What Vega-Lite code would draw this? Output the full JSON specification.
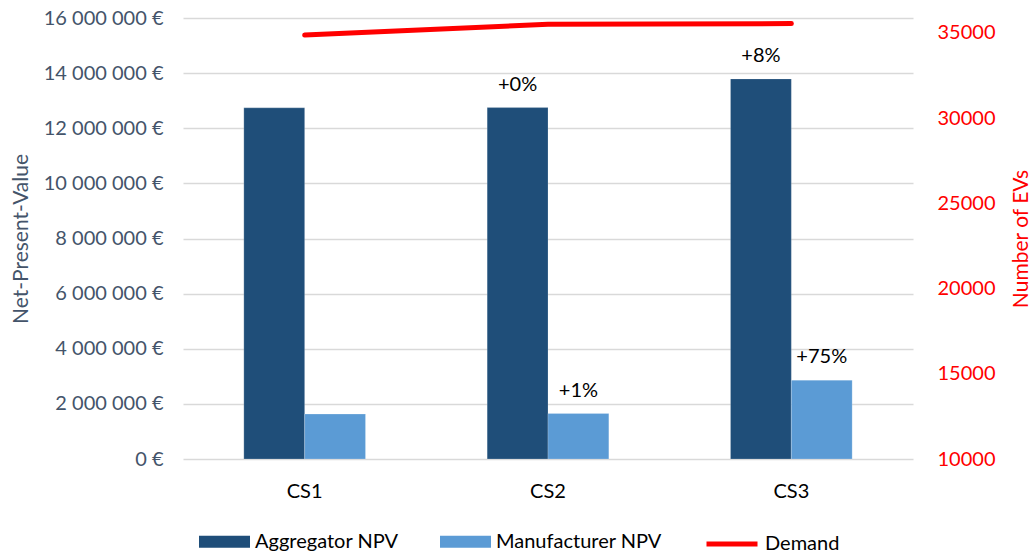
{
  "$schema": "https://vega.github.io/schema/vega-lite/v6.json",
  "width": 730,
  "height": 441,
  "autosize": {"type": "none"},
  "padding": {"left": 183, "top": 18, "right": 118, "bottom": 98},
  "background": "white",
  "config": {
    "view": {"stroke": null},
    "font": "Lato",
    "axis": {"labelFont": "Lato", "titleFont": "Lato", "titleFontWeight": "normal"},
    "legend": {"layout": {"bottom": {"anchor": "start", "direction": "horizontal", "margin": 10}}}
  },
  "layer": [
    {
      "data": {
        "values": [
          {"case": "CS1", "series": "Aggregator NPV", "npv": 12740000, "label": ""},
          {"case": "CS1", "series": "Manufacturer NPV", "npv": 1630000, "label": ""},
          {"case": "CS2", "series": "Aggregator NPV", "npv": 12750000, "label": "+0%"},
          {"case": "CS2", "series": "Manufacturer NPV", "npv": 1650000, "label": "+1%"},
          {"case": "CS3", "series": "Aggregator NPV", "npv": 13790000, "label": "+8%"},
          {"case": "CS3", "series": "Manufacturer NPV", "npv": 2860000, "label": "+75%"}
        ]
      },
      "encoding": {
        "x": {
          "field": "case", "type": "nominal", "sort": ["CS1", "CS2", "CS3"],
          "scale": {"paddingInner": 0, "paddingOuter": 0},
          "axis": {"title": null, "labelAngle": 0, "domain": false, "ticks": false, "labelPadding": 22, "labelFontSize": 20, "labelColor": "#000000", "grid": false}
        },
        "xOffset": {
          "field": "series", "type": "nominal", "sort": ["Aggregator NPV", "Manufacturer NPV"],
          "scale": {"paddingInner": 0, "paddingOuter": 1.1}
        },
        "y": {
          "field": "npv", "type": "quantitative",
          "scale": {"domain": [0, 16000000], "nice": false},
          "axis": {
            "orient": "left",
            "title": "Net-Present-Value",
            "titleFontSize": 21,
            "titleColor": "#44546A",
            "titlePadding": 12,
            "values": [0, 2000000, 4000000, 6000000, 8000000, 10000000, 12000000, 14000000, 16000000],
            "labelExpr": "datum.value == 0 ? '0 €' : format(datum.value / 1000000, 'd') + ' 000 000 €'",
            "labelFontSize": 20,
            "labelColor": "#44546A",
            "labelPadding": 20,
            "ticks": false,
            "domain": false,
            "grid": true,
            "gridColor": "#D9D9D9",
            "gridWidth": 1.5
          }
        }
      },
      "layer": [
        {
          "mark": {"type": "bar", "stroke": "#FFFFFF", "strokeWidth": 0.5, "strokeOpacity": 0.4},
          "encoding": {
            "color": {
              "field": "series", "type": "nominal",
              "scale": {"domain": ["Aggregator NPV", "Manufacturer NPV"], "range": ["#1F4E79", "#5B9BD5"]},
              "legend": {
                "orient": "bottom",
                "direction": "horizontal",
                "title": null,
                "offset": -1,
                "padding": 16,
                "symbolType": "M-1,-0.235H1V0.235H-1Z",
                "symbolSize": 2601,
                "symbolStrokeWidth": 0,
                "symbolOpacity": 1,
                "labelFont": "Lato",
                "labelFontSize": 20,
                "labelColor": "#000000",
                "labelLimit": 400,
                "labelOffset": 5,
                "columnPadding": 41
              }
            }
          }
        },
        {
          "transform": [{"filter": "datum.label != ''"}],
          "mark": {"type": "text", "font": "Lato", "fontSize": 20, "color": "#000000", "baseline": "alphabetic", "dy": -17},
          "encoding": {"text": {"field": "label"}}
        }
      ]
    },
    {
      "data": {
        "values": [
          {"case": "CS1", "series": "Demand", "demand": 34880},
          {"case": "CS2", "series": "Demand", "demand": 35510},
          {"case": "CS3", "series": "Demand", "demand": 35550}
        ]
      },
      "mark": {"type": "line", "strokeWidth": 5, "strokeCap": "round", "strokeJoin": "round"},
      "encoding": {
        "x": {"field": "case", "type": "nominal", "sort": ["CS1", "CS2", "CS3"]},
        "stroke": {
          "field": "series", "type": "nominal",
          "scale": {"domain": ["Demand"], "range": ["#FF0000"]},
          "legend": {
            "orient": "bottom",
            "direction": "horizontal",
            "title": null,
            "offset": -1,
            "padding": 16,
            "symbolType": "stroke",
            "symbolSize": 2601,
            "symbolStrokeWidth": 5,
            "symbolOpacity": 1,
            "labelFont": "Lato",
            "labelFontSize": 20,
            "labelColor": "#000000",
            "labelLimit": 400,
            "labelOffset": 5
          }
        },
        "y": {
          "field": "demand", "type": "quantitative",
          "scale": {"domain": [10000, 35880], "nice": false, "zero": false},
          "axis": {
            "orient": "right",
            "title": "Number of EVs",
            "titleFontSize": 21,
            "titleColor": "#FF0000",
            "titleAngle": 270,
            "titlePadding": 36,
            "values": [10000, 15000, 20000, 25000, 30000, 35000],
            "format": "d",
            "labelFontSize": 20,
            "labelColor": "#FF0000",
            "labelPadding": 24,
            "ticks": false,
            "domain": false,
            "grid": false
          }
        }
      }
    }
  ],
  "resolve": {"scale": {"y": "independent"}}
}
